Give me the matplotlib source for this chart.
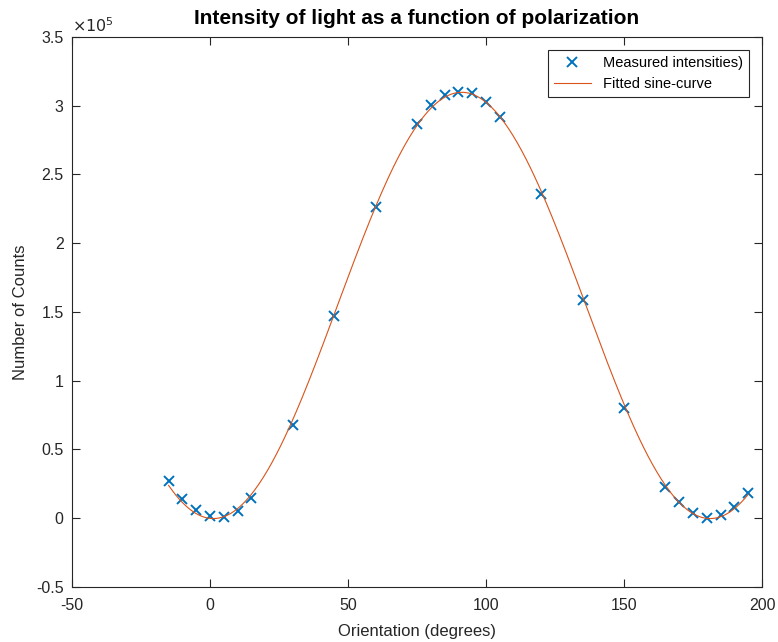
import matplotlib.pyplot as plt
from matplotlib.ticker import FuncFormatter
import numpy as np

plt.rcParams['font.family'] = ['Liberation Sans', 'DejaVu Sans']
plt.rcParams['axes.unicode_minus'] = False

# Measured data
angle = np.array([-15, -10, -5, 0, 5, 10, 15, 30, 45, 60, 75, 80, 85, 90, 95,
                  100, 105, 120, 135, 150, 165, 170, 175, 180, 185, 190, 195])
counts = np.array([26900, 14000, 6000, 1500, 1000, 5500, 15000, 67500, 147000,
                   226000, 286500, 300500, 308000, 310000, 309000, 303000,
                   291500, 235500, 158500, 80000, 23000, 11500, 4000, 0,
                   2000, 8000, 18000])

# Fit a + b*cos(2x) + c*sin(2x) by least squares
r = np.deg2rad(angle)
A = np.column_stack([np.ones_like(r), np.cos(2 * r), np.sin(2 * r)])
coef, *_ = np.linalg.lstsq(A, counts, rcond=None)
xf = np.linspace(angle.min(), angle.max(), 400)
rf = np.deg2rad(xf)
yf = coef[0] + coef[1] * np.cos(2 * rf) + coef[2] * np.sin(2 * rf)

fig = plt.figure(figsize=(7.78, 6.42), dpi=100)
ax = fig.add_axes([0.0925, 0.0857, 0.887, 0.8567])

ax.plot(angle, counts, 'x', color='#0072BD', markersize=7, mew=1.4,
        label='Measured intensities)')
ax.plot(xf, yf, '-', color='#D95319', lw=0.8, label='Fitted sine-curve')

ax.set_xlim(-50, 200)
ax.set_ylim(-0.5e5, 3.5e5)
ax.set_xticks(np.arange(-50, 201, 50))
ax.set_yticks(np.arange(-0.5e5, 3.51e5, 0.5e5))
ax.yaxis.set_major_formatter(FuncFormatter(lambda v, p: f'{v / 1e5:g}'))

for s in ax.spines.values():
    s.set_color('#262626')
    s.set_linewidth(0.8)
ax.tick_params(direction='in', top=True, right=True, labelsize=11.5,
               colors='#262626', length=6)
ax.tick_params(axis='x', pad=8)
ax.tick_params(axis='y', pad=6)

ax.text(0.0, 1.003, r'$\times10^5$', transform=ax.transAxes, fontsize=11.5,
        color='#262626', ha='left', va='bottom')

ax.set_xlabel('Orientation (degrees)', fontsize=12, color='#262626',
              labelpad=8)
ax.set_ylabel('Number of Counts', fontsize=12, color='#262626', labelpad=6)
ax.set_title('Intensity of light as a function of polarization',
             fontsize=15, fontweight='bold', pad=9)

leg = ax.legend(loc='upper right', fontsize=10.5, fancybox=False,
                edgecolor='#262626', framealpha=1, borderaxespad=0.9,
                handlelength=2.6)
leg.get_frame().set_linewidth(0.8)

fig.savefig('out.png', dpi=100)
